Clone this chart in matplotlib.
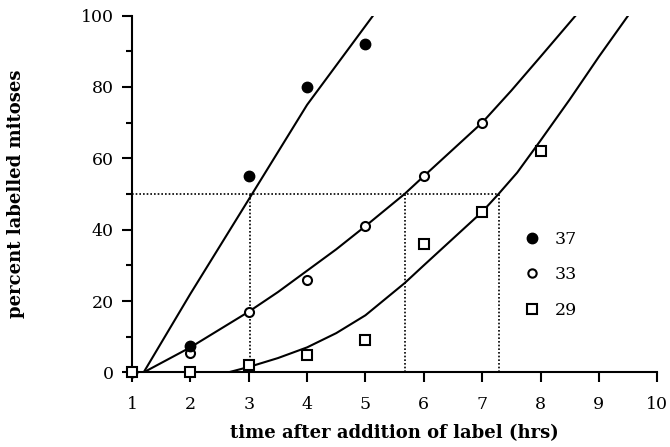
import matplotlib.pyplot as plt
from matplotlib.lines import Line2D

# observed percent labelled mitoses at each temperature
hours = [1, 2, 3, 4, 5, 6, 7, 8]
pct_37 = [0, 7.5, 55, 80, 92]
pct_33 = [0, 5.5, 17, 26, 41, 55, 70]
pct_29 = [0, 0, 2, 5, 9, 36, 45, 62]

# fitted curves, read as points along each line
fit_37_x = [1.2, 2.0, 3.02, 4.0, 5.13]
fit_37_y = [0, 22, 49, 75, 100]
fit_33_x = [1.2, 1.6, 2.0, 2.5, 3.0, 3.5, 4.0, 4.5, 5.0, 5.67, 6.0, 6.5, 7.0, 7.5, 8.0, 8.6]
fit_33_y = [0, 3.5, 7, 12, 17, 22.5, 28.5, 34.5, 41, 50, 55, 62.5, 70, 79, 88.5, 100]
fit_29_x = [2.65, 3.0, 3.5, 4.0, 4.5, 5.0, 5.67, 6.0, 6.5, 7.0, 7.28, 7.6, 8.0, 8.5, 9.0, 9.5]
fit_29_y = [0, 1.5, 4, 7, 11, 16, 25, 30, 37.5, 45, 50, 56, 65, 76.5, 88.5, 100]

# times at which each curve reaches 50%
half_times = [3.02, 5.67, 7.28]

fig, ax = plt.subplots(figsize=(6.7, 4.47), dpi=100)
fig.subplots_adjust(left=0.197, right=0.981, bottom=0.167, top=0.965)

lw = 1.5
ax.plot(fit_37_x, fit_37_y, color='black', lw=lw)
ax.plot(fit_33_x, fit_33_y, color='black', lw=lw)
ax.plot(fit_29_x, fit_29_y, color='black', lw=lw)

# dotted guides at 50%
dots = (0, (1, 1.2))
ax.plot([1, half_times[-1]], [50, 50], color='black', lw=1.2, ls=dots)
for t in half_times:
    ax.plot([t, t], [0, 50], color='black', lw=1.2, ls=dots)

ax.plot(hours[:len(pct_33)], pct_33, 'o', ms=6.5, mfc='white', mec='black', mew=1.5, clip_on=False, zorder=3)
ax.plot(hours[:len(pct_37)], pct_37, 'o', ms=7.5, mfc='black', mec='black', clip_on=False, zorder=4)
ax.plot(hours[:len(pct_29)], pct_29, 's', ms=7, mfc='white', mec='black', mew=1.5, clip_on=False, zorder=5)

ax.set_xlim(1, 10)
ax.set_ylim(0, 100)
ax.set_xticks(range(1, 11))
ax.set_yticks(range(0, 101, 20))
ax.set_yticks(range(10, 100, 20), minor=True)

for side in ['top', 'right']:
    ax.spines[side].set_visible(False)
for side in ['left', 'bottom']:
    ax.spines[side].set_linewidth(1.5)

ax.tick_params(axis='both', which='major', direction='out', width=1.5, length=7)
ax.tick_params(axis='x', which='major', pad=10)
ax.tick_params(axis='y', which='major', pad=6)
ax.tick_params(axis='y', which='minor', direction='out', width=1.5, length=4)
for lbl in ax.get_xticklabels() + ax.get_yticklabels():
    lbl.set_fontfamily('DejaVu Serif')
    lbl.set_fontsize(12.5)

label_font = {'family': 'DejaVu Serif', 'size': 13, 'weight': 'bold'}
ax.set_xlabel('time after addition of label (hrs)', fontdict=label_font, labelpad=8)
ax.set_ylabel('percent labelled mitoses', fontdict=label_font, labelpad=40)

handles = [
    Line2D([], [], ls='none', marker='o', ms=7.5, mfc='black', mec='black'),
    Line2D([], [], ls='none', marker='o', ms=6, mfc='white', mec='black', mew=1.5),
    Line2D([], [], ls='none', marker='s', ms=6.5, mfc='white', mec='black', mew=1.5),
]
ax.legend(handles, ['37', '33', '29'], loc='upper left', bbox_to_anchor=(0.728, 0.42),
          frameon=False, borderpad=0, handletextpad=0.8, labelspacing=1.05,
          handlelength=1.0, prop={'family': 'DejaVu Serif', 'size': 12.5})

fig.savefig('out.png', dpi=100)
